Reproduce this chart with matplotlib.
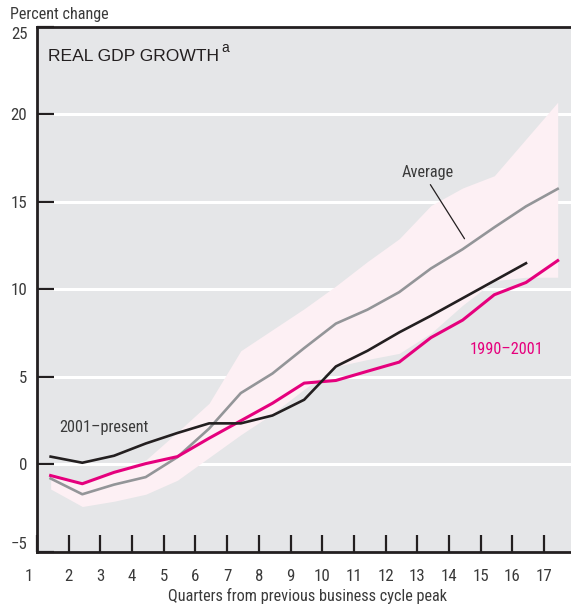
import numpy as np
import matplotlib
matplotlib.use("Agg")
import matplotlib.pyplot as plt
from matplotlib import font_manager
from matplotlib.transforms import ScaledTranslation

# quarters from previous business cycle peak
quarters = [1, 2, 3, 4, 5, 6, 7, 8, 9, 10, 11, 12, 13, 14, 15, 16, 17]

# 2001-present (16 quarters)
recent = [0.45, 0.1, 0.5, 1.2, 1.8, 2.35, 2.35, 2.8, 3.7, 5.6, 6.5, 7.55, 8.5, 9.5, 10.5, 11.5]
# 1990-2001
nineties = [-0.63, -1.1, -0.45, 0.05, 0.45, 1.5, 2.5, 3.5, 4.65, 4.8, 5.33, 5.85, 7.25, 8.25, 9.7, 10.4, 11.65]
# average of past cycles
average = [-0.8, -1.7, -1.15, -0.72, 0.42, 2.05, 4.08, 5.2, 6.65, 8.05, 8.85, 9.85, 11.2, 12.3, 13.55, 14.75, 15.75]
# range of past cycles
range_hi = [-0.5, -1.0, -0.4, 0.25, 1.85, 3.5, 6.5, 7.7, 8.9, 10.2, 11.6, 12.9, 14.8, 15.8, 16.5, 18.6, 20.7]
range_lo = [-1.4, -2.4, -2.1, -1.7, -0.9, 0.4, 1.7, 2.9, 4.3, 5.6, 6.0, 6.35, 7.5, 9.1, 10.5, 10.7, 10.7]

yticks = [-5, 0, 5, 10, 15, 20, 25]

BG = "#e5e6e8"
BAND = "#fdf0f4"
MAGENTA = "#e5007d"
GRAY = "#939598"
BLACK = "#231f20"
TXT = "#3a3a3a"

# pick a condensed face close to Helvetica Condensed if one is installed
names = {f.name for f in font_manager.fontManager.ttflist}
prefs = ["Roboto Condensed", "Liberation Sans Narrow", "Archivo Narrow", "PT Sans Narrow",
         "IBM Plex Sans Condensed", "Fira Sans Condensed", "Encode Sans Condensed",
         "Barlow Semi Condensed", "Asap Condensed", "Roboto"]
narrow = [n for n in prefs if n in names][:1] + ["DejaVu Sans"]
regular = ["Liberation Sans", "DejaVu Sans"]

fig = plt.figure(figsize=(5.71, 6.09), dpi=100)
ax = fig.add_axes([0.0648, 0.0936, 0.9352, 0.8621])
ax.set_facecolor(BG)

# data points sit a bit right of the quarter ticks
off = 0.43
xq = np.array(quarters) + off

for y in [0, 5, 10, 15, 20]:
    ax.axhline(y, color="white", lw=2.2, zorder=0.5)

ax.fill_between(xq, range_lo, range_hi, color=BAND, lw=0, zorder=1)
ax.plot(xq, average, color=GRAY, lw=1.9, zorder=2)
ax.plot(xq, nineties, color=MAGENTA, lw=2.2, zorder=3)
ax.plot(xq[:len(recent)], recent, color=BLACK, lw=1.9, zorder=4)

ax.set_xlim(1, 17.85)
ax.set_ylim(-5, 25)

for s in ["left", "bottom", "top"]:
    ax.spines[s].set_color(BLACK)
    ax.spines[s].set_linewidth(2.0)
ax.spines["right"].set_visible(False)

ax.set_yticks(yticks)
ax.set_yticklabels(["\u22125" if t < 0 else str(t) for t in yticks])
ax.set_xticks(quarters)
ax.set_xticklabels([str(q) for q in quarters])
ax.tick_params(axis="both", direction="in", length=12, width=1.6, color=BLACK,
               labelsize=12.2, labelcolor=TXT)
ax.tick_params(axis="y", pad=7)
ax.tick_params(axis="x", pad=12)
for lab in ax.get_xticklabels() + ax.get_yticklabels():
    lab.set_family(narrow)

ylabs = ax.get_yticklabels()
ylabs[0].set_va("bottom")
ylabs[-1].set_va("top")
first = ax.get_xticklabels()[0]
first.set_transform(first.get_transform() + ScaledTranslation(-0.08, 0, fig.dpi_scale_trans))

# title inside the panel
ax.text(0.0205, 0.935, "REAL GDP GROWTH", transform=ax.transAxes, family=regular,
        fontsize=12.6, color=BLACK, va="baseline")
ax.text(0.346, 0.953, "a", transform=ax.transAxes, family=regular,
        fontsize=10, color=BLACK, va="baseline")

ax.annotate("Average", xy=(14.49, 12.9), xytext=(13.33, 16.42), family=narrow,
            fontsize=11.7, color=TXT, ha="center", va="baseline",
            arrowprops=dict(arrowstyle="-", color=BLACK, lw=0.9, shrinkA=0, shrinkB=0,
                            relpos=(0.55, -0.3)))
ax.text(1.70, 1.85, "2001\u2013present", family=narrow, fontsize=11.7,
        color=TXT, va="baseline")
ax.text(14.64, 6.33, "1990\u20132001", family=narrow, fontsize=11.7,
        color=MAGENTA, va="baseline")

fig.text(10 / 571, 1 - 14 / 609, "Percent change", family=narrow, fontsize=11.6,
         color=TXT, va="center", ha="left")
fig.text(308 / 571, 1 - 596 / 609, "Quarters from previous business cycle peak",
         family=narrow, fontsize=11.7, color=TXT, va="center", ha="center")

fig.savefig("out.png", dpi=100, facecolor="white")
